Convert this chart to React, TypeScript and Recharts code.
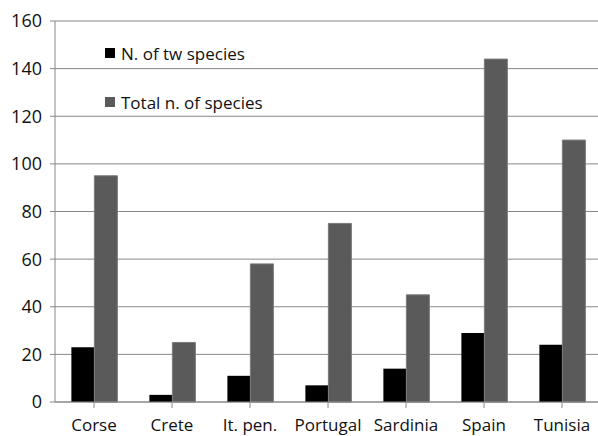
import React from 'react';
import { BarChart, Bar, XAxis, YAxis, CartesianGrid, Legend } from 'recharts';

const categories = ['Corse', 'Crete', 'It. pen.', 'Portugal', 'Sardinia', 'Spain', 'Tunisia'];
const twSpecies = [23, 3, 11, 7, 14, 29, 24];
const totalSpecies = [95, 25, 58, 75, 45, 144, 110];
const yTicks = [0, 20, 40, 60, 80, 100, 120, 140, 160];

const data = categories.map((c, i) => ({ name: c, tw: twSpecies[i], total: totalSpecies[i] }));

const FONT = '"Open Sans", sans-serif';

const LegendContent = () => (
  <div style={{ fontFamily: FONT, fontSize: 17, color: '#111', whiteSpace: 'nowrap' }}>
    <div style={{ display: 'flex', alignItems: 'center', height: 22 }}>
      <span style={{ display: 'inline-block', width: 10, height: 10, background: '#000', marginRight: 6 }} />
      <span>N. of tw species</span>
    </div>
    <div style={{ display: 'flex', alignItems: 'center', height: 22, marginTop: 27 }}>
      <span style={{ display: 'inline-block', width: 10, height: 10, background: '#5a5a5a', marginRight: 6 }} />
      <span>Total n. of species</span>
    </div>
  </div>
);

export default function App() {
  return (
    <div style={{ position: 'absolute', left: 0, top: 0, width: 598, height: 436, overflow: 'hidden', background: '#fff' }}>
      <BarChart
        width={601}
        height={436}
        data={data}
        margin={{ top: 21, right: 0, bottom: 0, left: 0 }}
        barCategoryGap="21%"
        barGap={0}
      >
        <CartesianGrid horizontal vertical={false} stroke="#888" strokeWidth={1} />
        <XAxis
          dataKey="name"
          height={34}
          stroke="#888"
          tickSize={6}
          tickMargin={11}
          interval={0}
          tick={{ fill: '#111', fontSize: 17, fontFamily: FONT }}
        />
        <YAxis
          width={55}
          domain={[0, 160]}
          ticks={yTicks}
          interval={0}
          stroke="#888"
          tickSize={5}
          tickMargin={8}
          tick={{ fill: '#111', fontSize: 18, fontFamily: FONT }}
        />
        <Legend
          verticalAlign="middle"
          align="center"
          layout="vertical"
          content={<LegendContent />}
          wrapperStyle={{ position: 'absolute', left: 105, top: 42, width: 220, height: 80 }}
        />
        <Bar dataKey="tw" name="N. of tw species" fill="#000" isAnimationActive={false} />
        <Bar dataKey="total" name="Total n. of species" fill="#5a5a5a" stroke="#7a7a7a" strokeWidth={1} isAnimationActive={false} />
      </BarChart>
    </div>
  );
}
